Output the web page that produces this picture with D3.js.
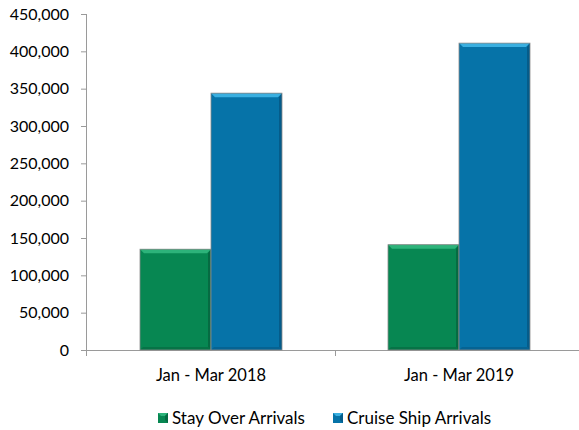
<!DOCTYPE html>
<html><head><meta charset="utf-8">
<script src="https://cdn.jsdelivr.net/npm/d3@7"></script>
<style>
html,body{margin:0;padding:0;background:#fff;}
text{font-family:Lato,"Open Sans",sans-serif;fill:#000;}
</style></head>
<body><svg id="c" width="579" height="430"></svg>
<script>
const categories = ["Jan - Mar 2018", "Jan - Mar 2019"];
const seriesNames = ["Stay Over Arrivals", "Cruise Ship Arrivals"];
const stayOver = [135000, 141000];
const cruiseShip = [344000, 411000];
const yTicks = [0, 50000, 100000, 150000, 200000, 250000, 300000, 350000, 400000, 450000];
const colors = ["#078752", "#0673A8"];
const lights = ["#2DB37A", "#3AAFE0"];
const darks = ["#056B42", "#055C8A"];

(function(){
const svg = d3.select("#c");
const pL = 87, pR = 583, pT = 14, pB = 350;
const y = d3.scaleLinear().domain([0, 450000]).range([pB, pT]);
const x0 = d3.scaleBand().domain(categories).range([pL, pR]).paddingInner(0).paddingOuter(0);
const groupW = 142;
const x1 = d3.scaleBand().domain(seriesNames).range([0, groupW]);

const yAxis = d3.axisLeft(y).tickValues(yTicks).tickSize(6).tickFormat(d3.format(","));
const gy = svg.append("g").attr("transform", `translate(${pL},0)`).call(yAxis);
gy.select(".domain").attr("stroke", "#9a9a9a").attr("d", `M-0.5,${pT}V${pB}`);
gy.selectAll(".tick line").attr("stroke", "#9a9a9a");
gy.selectAll(".tick text").attr("x", -18).attr("font-size", 16).style("font-family", "Lato, sans-serif");

const xAxis = d3.axisBottom(x0).tickSize(0);
const gx = svg.append("g").attr("transform", `translate(0,${pB})`).call(xAxis);
gx.select(".domain").attr("stroke", "#9a9a9a").attr("d", `M${pL-6},0.5H${pR}`);
gx.selectAll(".tick text").attr("dy", 0).attr("y", 31).attr("font-size", 16.5).style("font-family", "Lato, sans-serif");
svg.append("g").selectAll("line").data(categories.slice(1)).join("line")
  .attr("x1", d => Math.round(x0(d)) + 0.5).attr("x2", d => Math.round(x0(d)) + 0.5)
  .attr("y1", pB).attr("y2", pB + 6).attr("stroke", "#9a9a9a");
svg.append("line").attr("x1", pL - 0.5).attr("x2", pL - 0.5).attr("y1", pB).attr("y2", pB + 6).attr("stroke", "#9a9a9a");

const data = [];
categories.forEach((c, i) => {
  data.push({cat: c, s: 0, v: stayOver[i]});
  data.push({cat: c, s: 1, v: cruiseShip[i]});
});
const b = 4;
const g = svg.append("g");
data.forEach(d => {
  const bx = x0(d.cat) + (x0.bandwidth() - groupW) / 2 + x1(seriesNames[d.s]);
  const bw = x1.bandwidth();
  const by = y(d.v), bh = pB - by;
  const gg = g.append("g");
  gg.append("rect").attr("x", bx).attr("y", by).attr("width", bw).attr("height", bh).attr("fill", colors[d.s]);
  gg.append("path").attr("d", `M${bx},${by}H${bx+bw}L${bx+bw-b},${by+b}H${bx+b}Z`).attr("fill", lights[d.s]);
  gg.append("path").attr("d", `M${bx+bw},${by}V${pB}L${bx+bw-3},${pB-3}V${by+b}Z`).attr("fill", darks[d.s]);
  gg.append("path").attr("d", `M${bx},${pB}H${bx+bw}L${bx+bw-3},${pB-3}H${bx+3}Z`).attr("fill", darks[d.s]).attr("opacity", 0.7);
  gg.append("rect").attr("x", bx).attr("y", by).attr("width", bw).attr("height", bh)
    .attr("fill", "none").attr("stroke", "#8a8a8a").attr("stroke-width", 0.8);
});

const legendX = [158, 333];
const lg = svg.append("g");
seriesNames.forEach((n, i) => {
  const lx = legendX[i], ly = 413;
  lg.append("rect").attr("x", lx).attr("y", ly).attr("width", 10).attr("height", 10).attr("fill", colors[i]);
  lg.append("path").attr("d", `M${lx},${ly}H${lx+10}L${lx+7},${ly+3}H${lx+3}Z`).attr("fill", lights[i]);
  lg.append("path").attr("d", `M${lx+10},${ly}V${ly+10}L${lx+7},${ly+7}V${ly+3}Z`).attr("fill", darks[i]);
  lg.append("text").attr("x", lx + 14).attr("y", ly + 11).attr("font-size", 17).text(n);
});
})();
</script></body></html>
